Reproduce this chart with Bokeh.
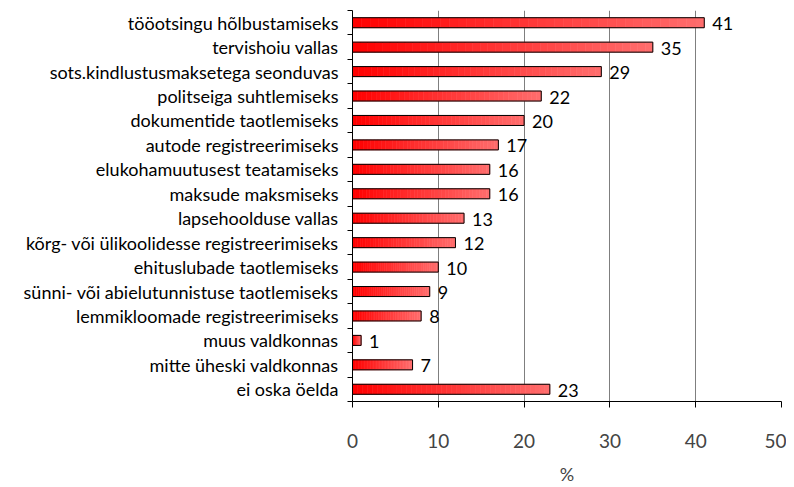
from bokeh.plotting import figure
from bokeh.models import (Range1d, LinearAxis, FixedTicker, ColumnDataSource)
from bokeh.core.properties import value
from bokeh.embed import file_html
from bokeh.resources import INLINE

categories = [
    "tööotsingu hõlbustamiseks",
    "tervishoiu vallas",
    "sots.kindlustusmaksetega seonduvas",
    "politseiga suhtlemiseks",
    "dokumentide taotlemiseks",
    "autode registreerimiseks",
    "elukohamuutusest teatamiseks",
    "maksude maksmiseks",
    "lapsehoolduse vallas",
    "kõrg- või ülikoolidesse registreerimiseks",
    "ehituslubade taotlemiseks",
    "sünni- või abielutunnistuse taotlemiseks",
    "lemmikloomade registreerimiseks",
    "muus valdkonnas",
    "mitte üheski valdkonnas",
    "ei oska öelda",
]
values = [41, 35, 29, 22, 20, 17, 16, 16, 13, 12, 10, 9, 8, 1, 7, 23]
x_ticks = [0, 10, 20, 30, 40, 50]

FONT = "Lato"
BAR_H = 0.41
n = len(categories)
ypos = [n - i - 0.5 for i in range(n)]   # first category at the top

p = figure(
    width=786, height=487,
    y_range=Range1d(0, n),
    x_range=Range1d(0, 50),
    output_backend="svg", toolbar_location=None,
    y_axis_location=None,
    min_border_left=352, min_border_right=5, min_border_top=10, min_border_bottom=85,
)
p.outline_line_color = None
p.background_fill_color = "white"

# gradient bars built from slices of each value
K = 40
lefts, rights, ys, colors = [], [], [], []
c0 = (255, 0, 0)
c1 = (255, 110, 110)
for y, v in zip(ypos, values):
    for j in range(K):
        t = (j + 0.5) / K
        r = int(c0[0] + (c1[0] - c0[0]) * t)
        g = int(c0[1] + (c1[1] - c0[1]) * t)
        b = int(c0[2] + (c1[2] - c0[2]) * t)
        lefts.append(v * j / K)
        rights.append(v * (j + 1) / K)
        ys.append(y)
        colors.append("#%02x%02x%02x" % (r, g, b))
p.hbar(y=ys, left=lefts, right=rights, height=BAR_H,
       fill_color=colors, line_color=colors, line_width=0.6)

src = ColumnDataSource(dict(y=ypos, val=values,
                            lab=[str(v) for v in values]))
p.hbar(y="y", left=0, right="val", height=BAR_H, source=src,
       fill_alpha=0, line_color="black", line_width=1)

p.text(x="val", y="y", text="lab", source=src, x_offset=8, y_offset=1,
       text_align="left", text_baseline="middle",
       text_font=value(FONT), text_font_size="18px", text_color="black")

# x axis
p.xaxis.ticker = FixedTicker(ticks=x_ticks)
p.xaxis.axis_label = "%"
p.xaxis.axis_label_text_font = FONT
p.xaxis.axis_label_text_font_style = "normal"
p.xaxis.axis_label_text_font_size = "18px"
p.xaxis.axis_label_standoff = 12
p.xaxis.major_label_text_font = FONT
p.xaxis.major_label_text_font_size = "19px"
p.xaxis.major_label_standoff = 26
p.xaxis.major_tick_out = 6
p.xaxis.major_tick_in = 0
p.xaxis.minor_tick_line_color = None
p.xaxis.axis_line_color = "black"
p.xaxis.major_tick_line_color = "black"

p.xgrid.ticker = FixedTicker(ticks=x_ticks)
p.xgrid.grid_line_color = "#7f7f7f"
p.ygrid.grid_line_color = None

# y tick marks at category boundaries (labels not drawn)
tick_axis = LinearAxis(ticker=FixedTicker(ticks=list(range(n + 1))),
                       major_label_text_color=None,
                       major_label_text_font_size="1px", major_label_standoff=0,
                       major_tick_out=5, major_tick_in=0,
                       minor_tick_line_color=None,
                       axis_line_color="black", major_tick_line_color="black")
p.add_layout(tick_axis, "left")

label_axis = LinearAxis(ticker=FixedTicker(ticks=ypos),
                        major_label_overrides={y: c for y, c in zip(ypos, categories)},
                        axis_line_color=None, major_tick_line_color=None,
                        minor_tick_line_color=None,
                        major_tick_out=0, major_tick_in=0,
                        major_label_standoff=9,
                        major_label_text_font=FONT,
                        major_label_text_font_size="18px",
                        major_label_text_color="black")
p.add_layout(label_axis, "left")

open("out.html", "w").write(file_html(p, INLINE))
